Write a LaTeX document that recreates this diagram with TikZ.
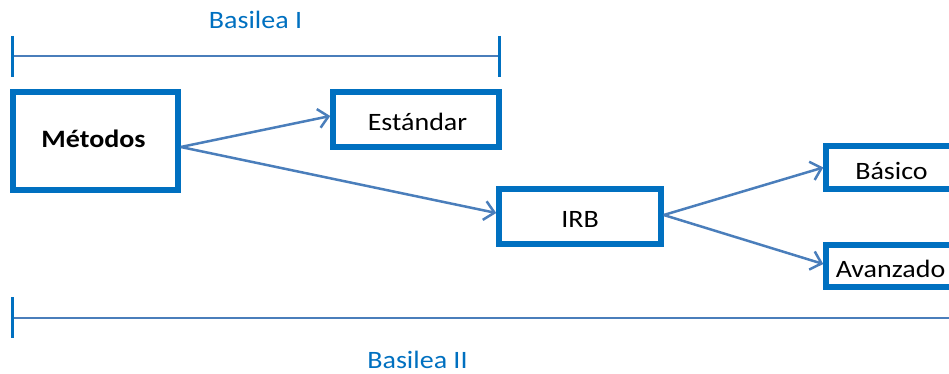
\documentclass[tikz,border=0pt]{standalone}
\usepackage{fontspec}
\setmainfont{Carlito}[FakeStretch=1.12]
\usetikzlibrary{arrows.meta}
\definecolor{boxblue}{RGB}{0,112,192}
\definecolor{arrblue}{RGB}{74,126,187}
\tikzset{
  box/.style={draw=boxblue, line width=5.5pt, inner sep=0pt, rectangle},
  txt/.style={anchor=base, inner sep=0pt, font=\fontsize{25}{30}\selectfont, text=black},
  lbl/.style={anchor=base, inner sep=0pt, font=\fontsize{25}{30}\selectfont, text=boxblue},
  conn/.style={draw=arrblue, line width=2.5pt, -{Straight Barb[length=10pt,width=19pt]}},
  tick/.style={draw=boxblue, line width=3pt},
  span/.style={draw=arrblue, line width=2.3pt}
}
\begin{document}
\begin{tikzpicture}[x=1pt,y=-1pt]
\useasboundingbox (0,0) rectangle (949,374);
\clip (0,0) rectangle (949,374);
% boxes
\node[box, minimum width=165pt, minimum height=98pt] (met) at (95.5,141) {};
\node[box, minimum width=166pt, minimum height=55pt] (est) at (416,119.5) {};
\node[box, minimum width=162pt, minimum height=55pt] (irb) at (580,216.5) {};
\node[box, minimum width=140pt, minimum height=43pt] (bas) at (896,167.5) {};
\node[box, minimum width=140pt, minimum height=42pt] (ava) at (896,266) {};
% texts
\node[txt, font=\fontsize{25}{30}\selectfont\bfseries] (tmet) at (93.5,148) {Métodos};
\node[txt] (test) at (417.5,131) {Estándar};
\node[txt] (tirb) at (580,227) {IRB};
\node[txt] (tbas) at (891.5,179) {Básico};
\node[txt] (tava) at (890.5,277) {Avanzado};
% connectors
\draw[conn] ([yshift=-6pt]met.east) -- ([yshift=3.5pt]est.west);
\draw[conn] ([yshift=-6pt]met.east) -- ([yshift=3.5pt]irb.west);
\draw[conn] ([yshift=1.5pt]irb.east) -- (bas.west);
\draw[conn] ([yshift=1.5pt]irb.east) -- ([yshift=2pt]ava.west);
% Basilea I span
\coordinate (b1l) at (12,56);
\coordinate (b1r) at (499,56);
\draw[span] (b1l) -- (b1r);
\draw[tick] ([yshift=20pt]b1l) -- ([yshift=-21pt]b1l);
\draw[tick] ([yshift=20pt]b1r) -- ([yshift=-21pt]b1r);
\node[lbl] (lb1) at (255.5,29) {Basilea I};
% Basilea II span
\coordinate (b2l) at (12,318);
\coordinate (b2r) at (960,318);
\draw[span] (b2l) -- (b2r);
\draw[tick] ([yshift=21pt]b2l) -- ([yshift=-20pt]b2l);
\node[lbl] (lb2) at (417.5,368) {Basilea II};
\end{tikzpicture}
\end{document}
